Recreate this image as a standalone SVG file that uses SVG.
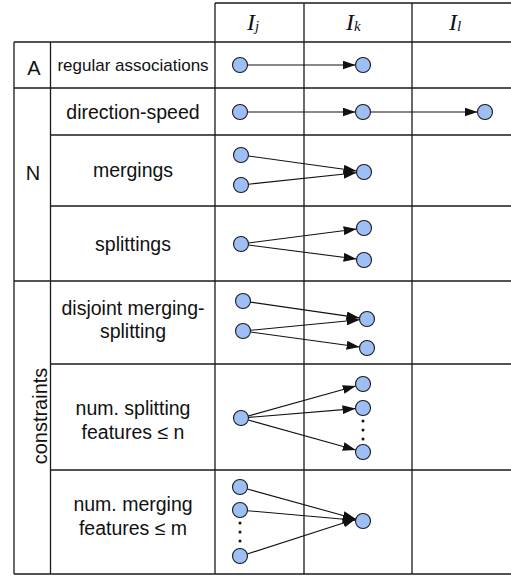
<svg xmlns="http://www.w3.org/2000/svg" width="511" height="577" viewBox="0 0 511 577">
<style>
.grid line{stroke:#1a1a1a;stroke-width:1.3}
.lbl{font-family:"Liberation Sans",Arial,sans-serif;font-size:19.5px;fill:#111;text-anchor:middle}
.hdr{font-family:"Liberation Serif","Times New Roman",serif;font-style:italic;font-size:24px;fill:#111}
.sub{font-size:15px}
.node{fill:#9dbff5;stroke:#1a1a1a;stroke-width:1.1}
.dot{fill:#111}
.conn line{stroke:#111;stroke-width:1.1;marker-end:url(#ah)}
</style>
<defs>
<marker id="ah" markerUnits="userSpaceOnUse" markerWidth="13" markerHeight="9" refX="13" refY="4.5" orient="auto">
<path d="M0,0 L13,4.5 L0,9 z" fill="#111"/>
</marker>
</defs>
<rect width="511" height="577" fill="#fff"/>
<g id="grid" class="grid">
<line x1="215" y1="3" x2="511" y2="3"/>
<line x1="14" y1="42" x2="511" y2="42"/>
<line x1="14" y1="88" x2="511" y2="88"/>
<line x1="50.5" y1="135" x2="511" y2="135"/>
<line x1="50.5" y1="206" x2="511" y2="206"/>
<line x1="14" y1="281" x2="511" y2="281"/>
<line x1="50.5" y1="364" x2="511" y2="364"/>
<line x1="50.5" y1="470" x2="511" y2="470"/>
<line x1="14" y1="574" x2="511" y2="574"/>
<line x1="14" y1="42" x2="14" y2="574"/>
<line x1="50.5" y1="42" x2="50.5" y2="574"/>
<line x1="215" y1="3" x2="215" y2="574"/>
<line x1="304" y1="3" x2="304" y2="574"/>
<line x1="412" y1="3" x2="412" y2="574"/>
</g>
<g id="headers">
<text class="hdr" x="247" y="30">I<tspan class="sub" dy="1">j</tspan></text>
<text class="hdr" x="346" y="30">I<tspan class="sub" dy="1">k</tspan></text>
<text class="hdr" x="449" y="30">I<tspan class="sub" dy="1">l</tspan></text>
</g>
<g id="groups">
<text class="lbl" x="34" y="75" style="font-size:20px">A</text>
<text class="lbl" x="33" y="180" style="font-size:20px">N</text>
<text class="lbl" transform="translate(46.5,416) rotate(-90)" x="0" y="0" style="font-size:20px">constraints</text>
</g>
<g id="labels">
<text class="lbl" x="133" y="71" style="font-size:17px">regular associations</text>
<text class="lbl" x="133" y="119">direction-speed</text>
<text class="lbl" x="133" y="176.5">mergings</text>
<text class="lbl" x="133" y="250.5">splittings</text>
<text class="lbl" x="133" y="314.5">disjoint merging-</text>
<text class="lbl" x="133" y="338">splitting</text>
<text class="lbl" x="133" y="415">num. splitting</text>
<text class="lbl" x="133" y="438.5">features ≤ n</text>
<text class="lbl" x="133" y="511">num. merging</text>
<text class="lbl" x="133" y="534.5">features ≤ m</text>
</g>
<g id="connectors" class="conn">
<line x1="247.5" y1="65" x2="355.5" y2="65"/>
<line x1="247.5" y1="112" x2="355.5" y2="112"/>
<line x1="370.5" y1="112" x2="477.5" y2="112"/>
<line x1="248.4" y1="156" x2="356.6" y2="171"/>
<line x1="248.5" y1="184.2" x2="356.5" y2="172.8"/>
<line x1="248.4" y1="243" x2="356.6" y2="229"/>
<line x1="248.4" y1="245" x2="356.6" y2="259"/>
<line x1="250.4" y1="302.1" x2="359.6" y2="317.9"/>
<line x1="250.5" y1="330.3" x2="359.5" y2="319.7"/>
<line x1="250.4" y1="332" x2="359.6" y2="347"/>
<line x1="248.2" y1="416" x2="355.8" y2="386"/>
<line x1="248.5" y1="417.4" x2="355.5" y2="408.6"/>
<line x1="248.2" y1="420" x2="355.8" y2="450"/>
<line x1="247.2" y1="489" x2="355.8" y2="519"/>
<line x1="247.5" y1="510.7" x2="355.5" y2="520.3"/>
<line x1="247.2" y1="554" x2="355.8" y2="519"/>
</g>
<g id="row-regular">
<circle class="node" cx="240" cy="65" r="7.5"/>
<circle class="node" cx="363" cy="65" r="7.5"/>
</g>
<g id="row-direction">
<circle class="node" cx="240" cy="112" r="7.5"/>
<circle class="node" cx="363" cy="112" r="7.5"/>
<circle class="node" cx="485" cy="112" r="7.5"/>
</g>
<g id="row-mergings">
<circle class="node" cx="241" cy="155" r="7.5"/>
<circle class="node" cx="241" cy="185" r="7.5"/>
<circle class="node" cx="364" cy="172" r="7.5"/>
</g>
<g id="row-splittings">
<circle class="node" cx="241" cy="244" r="7.5"/>
<circle class="node" cx="364" cy="228" r="7.5"/>
<circle class="node" cx="364" cy="260" r="7.5"/>
</g>
<g id="row-disjoint">
<circle class="node" cx="243" cy="301" r="7.5"/>
<circle class="node" cx="243" cy="331" r="7.5"/>
<circle class="node" cx="367" cy="319" r="7.5"/>
<circle class="node" cx="367" cy="348" r="7.5"/>
</g>
<g id="row-numsplit">
<circle class="node" cx="241" cy="418" r="7.5"/>
<circle class="node" cx="363" cy="384" r="7.5"/>
<circle class="node" cx="363" cy="408" r="7.5"/>
<circle class="node" cx="363" cy="452" r="7.5"/>
<circle class="dot" cx="363" cy="421" r="1.5"/>
<circle class="dot" cx="363" cy="430" r="1.5"/>
<circle class="dot" cx="363" cy="439" r="1.5"/>
</g>
<g id="row-nummerge">
<circle class="node" cx="240" cy="487" r="7.5"/>
<circle class="node" cx="240" cy="510" r="7.5"/>
<circle class="node" cx="240" cy="556" r="7.5"/>
<circle class="node" cx="363" cy="521" r="7.5"/>
<circle class="dot" cx="240" cy="523" r="1.5"/>
<circle class="dot" cx="240" cy="532" r="1.5"/>
<circle class="dot" cx="240" cy="541" r="1.5"/>
</g>
</svg>
